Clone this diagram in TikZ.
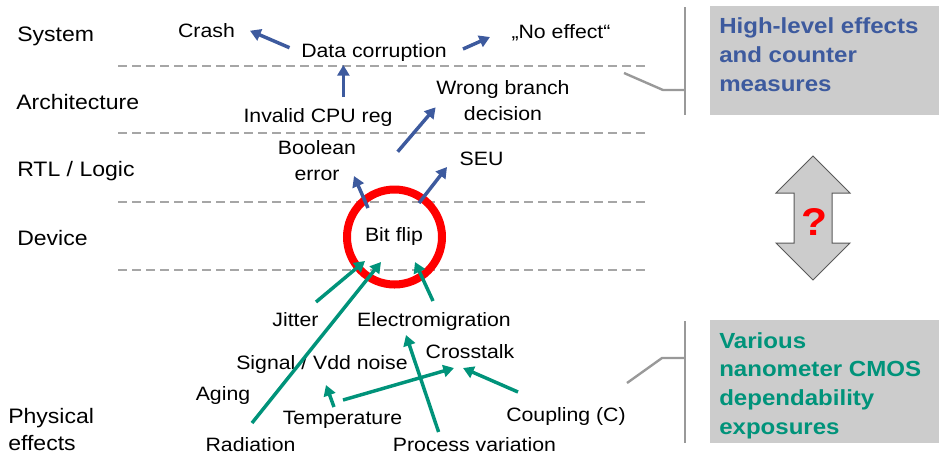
\documentclass[tikz,border=0pt]{standalone}
\usepackage{fontspec}
\setmainfont{Liberation Sans}[FakeStretch=1.1]
\usetikzlibrary{arrows.meta}
\definecolor{effblue}{HTML}{3D5A9E}
\definecolor{physgreen}{HTML}{00937A}
\definecolor{rulegray}{HTML}{A6A6A6}
\definecolor{bargray}{HTML}{999999}
\definecolor{boxgray}{HTML}{CCCCCC}
\definecolor{edgegray}{HTML}{595959}
\begin{document}
\begin{tikzpicture}[x=0.75pt,y=-0.75pt,
  layer/.style={font=\fontsize{15.7}{20}\selectfont, anchor=base west, inner sep=0pt, align=left},
  lbl/.style={font=\fontsize{14.5}{19.5}\selectfont, anchor=base, inner sep=0pt, align=center},
  boxtext/.style={font=\bfseries\fontsize{16.4}{21.6}\selectfont, anchor=base west, inner sep=0pt, align=left},
  levelline/.style={draw=rulegray, line width=1.5pt, dash pattern=on 6.75pt off 3.75pt},
  bracket/.style={draw=bargray, line width=1.8pt},
  hiarrow/.style={draw=effblue, line width=2.6pt, -{Triangle[length=8pt,width=9pt]}},
  loarrow/.style={draw=physgreen, line width=2.6pt, -{Triangle[length=8pt,width=9pt]}},
  graybox/.style={fill=boxgray, draw=none}]
\useasboundingbox (0,0) rectangle (939,455);

% abstraction levels (multi-line nodes are placed by their last baseline)
\node[layer] (sys)  at (17,41)  {System};
\node[layer] (arch) at (16,109) {Architecture};
\node[layer] (rtl)  at (17,176) {RTL / Logic};
\node[layer] (dev)  at (17,245) {Device};
\node[layer] (phys) at (8,450)  {Physical\\[-0.3pt]effects};

% level separators
\draw[levelline] (118,66)  -- (645,66);
\draw[levelline] (118,133) -- (645,133);
\draw[levelline] (118,202) -- (645,202);
\draw[levelline] (118,270) -- (645,270);

% error effects
\node[lbl] (crash)  at (206.5,37) {Crash};
\node[lbl] (datac)  at (374,57)   {Data corruption};
\node[lbl] (noeff)  at (561,38)   {„No effect“};
\node[lbl] (invcpu) at (318,122)  {Invalid CPU reg};
\node[lbl] (wrong)  at (503,120.5) {Wrong branch\\[0.3pt]decision};
\node[lbl] (bool)   at (317,180)  {Boolean\\error};
\node[lbl] (seu)    at (481.5,165){SEU};
\node[lbl] (bitflip) at (394,241) {Bit flip};
\draw[red, line width=6pt] (394.5,237) circle[radius=47.5];

% physical causes
\node[lbl] (jitter)    at (295.5,326) {Jitter};
\node[lbl] (electro)   at (434,326)   {Electromigration};
\node[lbl] (signal)    at (322,369)   {Signal / Vdd noise};
\node[lbl] (cross)     at (470,358)   {Crosstalk};
\node[lbl] (aging)     at (223,400)   {Aging};
\node[lbl] (temp)      at (342.5,424) {Temperature};
\node[lbl] (coupling)  at (566,421)   {Coupling (C)};
\node[lbl] (radiation) at (250.5,451) {Radiation};
\node[lbl] (process)   at (474.5,451) {Process variation};

% connector end points
\coordinate (dc-l)   at (289.5,47.7);
\coordinate (crash-in) at (250,30.7);
\coordinate (dc-r)   at (463,49);
\coordinate (noeff-in) at (490,37);
\coordinate (cpu-out) at (343.4,97);
\coordinate (dc-in)  at (343.4,65);
\coordinate (bool-out) at (397.7,151.7);
\coordinate (wrong-in) at (435.6,107.3);
\coordinate (bf-l)   at (368,208);
\coordinate (bool-in) at (354,176);
\coordinate (bf-r)   at (419,203);
\coordinate (seu-in) at (447,167);

\coordinate (jit-out)  at (316,302);
\coordinate (bf-in1)   at (365,261);
\coordinate (rad-out)  at (252,423);
\coordinate (bf-in2)   at (381,262);
\coordinate (em-out)   at (433,301);
\coordinate (bf-in3)   at (415,262);
\coordinate (pv-out)   at (438.6,432);
\coordinate (em-in)    at (406,335);
\coordinate (tmp-out1) at (334,407);
\coordinate (sig-in)   at (326,385);
\coordinate (tmp-out2) at (343,400);
\coordinate (ct-in1)   at (454,368);
\coordinate (cpl-out)  at (518,392);
\coordinate (ct-in2)   at (463,368);

% propagation upwards
\draw[hiarrow] (dc-l) -- (crash-in);
\draw[hiarrow] (dc-r) -- (noeff-in);
\draw[hiarrow] (cpu-out) -- (dc-in);
\draw[hiarrow] (bool-out) -- (wrong-in);
\draw[hiarrow] (bf-l) -- (bool-in);
\draw[hiarrow] (bf-r) -- (seu-in);

% physical causes of bit flips
\draw[loarrow] (jit-out) -- (bf-in1);
\draw[loarrow] (rad-out) -- (bf-in2);
\draw[loarrow] (em-out) -- (bf-in3);
\draw[loarrow] (pv-out) -- (em-in);
\draw[loarrow] (tmp-out1) -- (sig-in);
\draw[loarrow] (tmp-out2) -- (ct-in1);
\draw[loarrow] (cpl-out) -- (ct-in2);

% side boxes
\draw[bracket] (685,7) -- (685,115);
\draw[bracket] (685,90) -- (663,90) -- (624,73);
\fill[graybox] (710,6) rectangle (939,115);
\node[boxtext, text=effblue] (high) at (719,91) {High-level effects\\and counter\\measures};

\draw[bracket] (685,321) -- (685,443);
\draw[bracket] (685,358) -- (662,358) -- (627,383);
\fill[graybox] (710,320) rectangle (939,443);
\node[boxtext, text=physgreen] (low) at (719,434.5) {Various\\nanometer CMOS\\dependability\\exposures};

% gap between the two views
\draw[fill=boxgray, draw=edgegray, line width=0.75pt]
  (813,156) -- (850,193) -- (832,193) -- (832,243) -- (850,243) -- (813,280)
  -- (776,243) -- (794,243) -- (794,193) -- (776,193) -- cycle;
\node[font=\bfseries\fontsize{29}{30}\selectfont, text=red, anchor=base, inner sep=0pt] (q) at (814,235) {?};
\end{tikzpicture}
\end{document}
